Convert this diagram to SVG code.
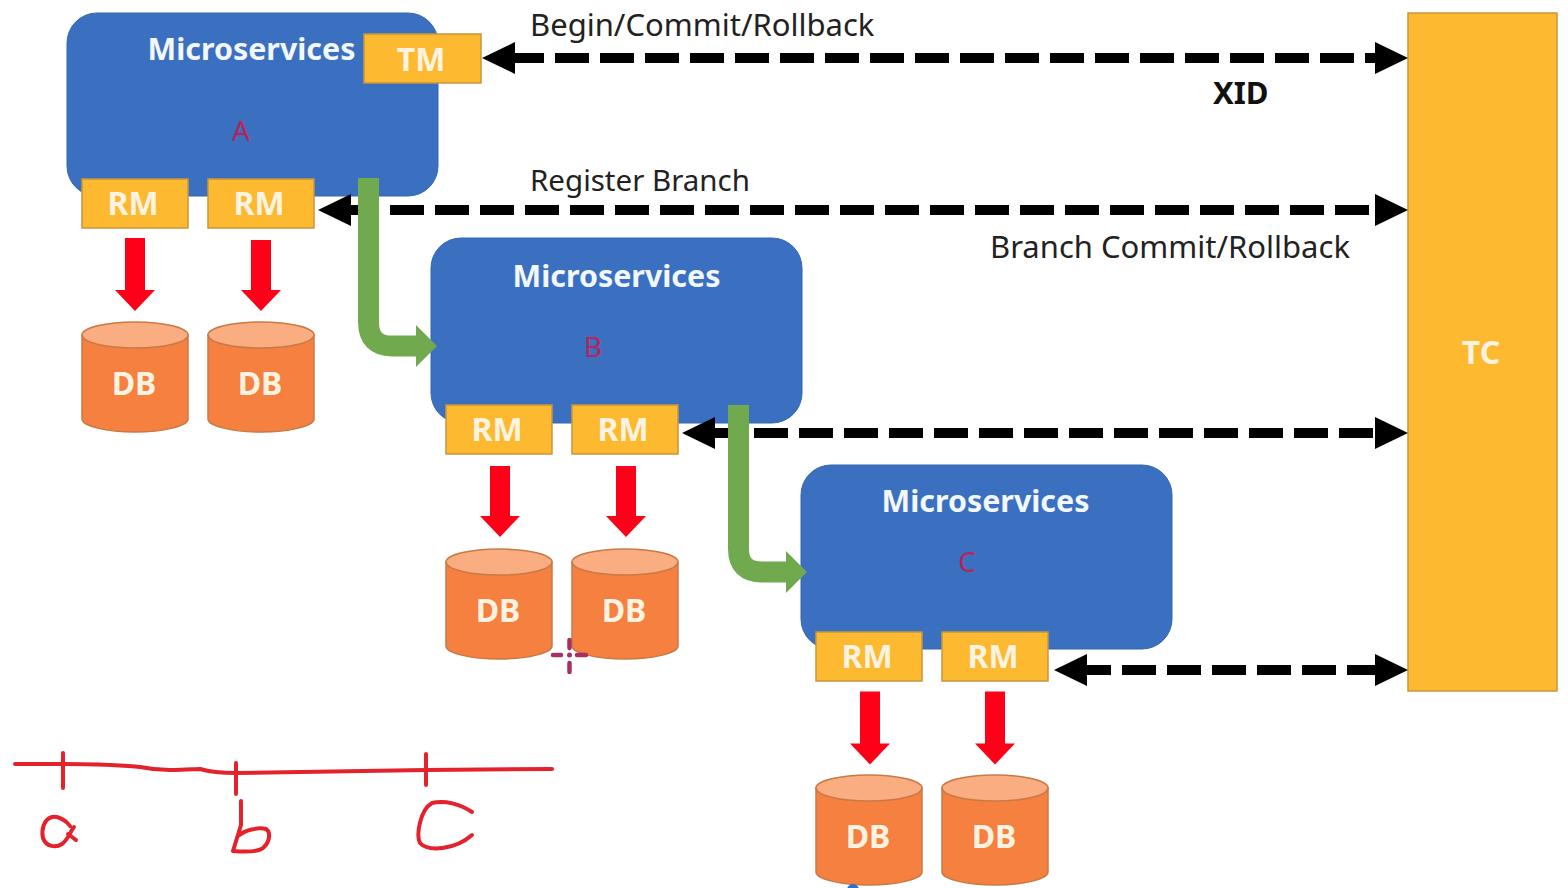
<svg xmlns="http://www.w3.org/2000/svg" width="1568" height="888" viewBox="0 0 1568 888">
<style>
text{font-family:"Noto Sans","Liberation Sans",sans-serif}
.svc{fill:#3b70c0;stroke:#3567b0;stroke-width:1}
.box{fill:#fdb92f;stroke:#c8963c;stroke-width:1.5}
.w{fill:#fdf3e0;font-weight:700;font-size:32px;text-anchor:middle}
.m{fill:#f2f7fc;font-weight:700;font-size:30.400px;text-anchor:middle}
.lab{fill:#222;font-size:31px}
.tag{fill:#b8235a;font-size:28px;text-anchor:middle}
.dash{fill:none;stroke:#000;stroke-width:10;stroke-dasharray:34 11}
.green{fill:none;stroke:#71a94e;stroke-width:21}
.gh{fill:#71a94e}
.ah{fill:#000}
.red{fill:#ff0019}
.body{fill:#f58040;stroke:#c87a45;stroke-width:1.5}
.top{fill:#f9ad80;stroke:#c87a45;stroke-width:1.5}
.ink{fill:none;stroke:#e3222c;stroke-width:4;stroke-linecap:round;stroke-linejoin:round}
.cur{fill:none;stroke:#a83060;stroke-width:4.500;stroke-linecap:round}
</style>
<defs>
<g id="db"><path class="body" d="M0 13V97C0 104 24 110 53 110S106 104 106 97V13Z"/><ellipse class="top" cx="53" cy="13" rx="53" ry="13"/><text class="w" x="52" y="73">DB</text></g>
<g id="rm"><rect class="box" width="106" height="49"/><text class="w" x="51" y="36">RM</text></g>
<path id="down" class="red" d="M10 0H30V52H40L20 73L0 52H10Z"/>
<path id="down2" class="red" d="M10 0H30V50H40L20 71L0 50H10Z"/>
<path id="hl" class="ah" d="M0 0L33-16V16Z"/>
<path id="hr" class="ah" d="M0 0L-33-16V16Z"/>
</defs>

<g id="service-a"><rect class="svc" x="67" y="13" width="371" height="183" rx="30"/><text class="m" x="251.500" y="60">Microservices</text><text class="tag" x="241" y="141">A</text></g>
<g id="service-b"><rect class="svc" x="431" y="238" width="371" height="185" rx="30"/><text class="m" x="616.500" y="287">Microservices</text><text class="tag" x="593" y="357">B</text></g>
<g id="service-c"><rect class="svc" x="801" y="465" width="371" height="184" rx="30"/><text class="m" x="985.500" y="512">Microservices</text><text class="tag" x="967" y="572">C</text></g>
<g id="tc"><rect class="box" x="1408" y="13" width="149" height="678"/><text class="w" x="1481" y="364">TC</text></g>
<g id="tm"><rect class="box" x="364" y="34" width="117" height="49"/><text class="w" x="421" y="71">TM</text></g>
<g id="rm-a1"><use href="#rm" x="82" y="179"/></g>
<g id="rm-a2"><use href="#rm" x="208" y="179"/></g>
<g id="rm-b1"><use href="#rm" x="446" y="405"/></g>
<g id="rm-b2"><use href="#rm" x="572" y="405"/></g>
<g id="rm-c1"><use href="#rm" x="816" y="632"/></g>
<g id="rm-c2"><use href="#rm" x="942" y="632"/></g>
<g id="db-a1"><use href="#db" x="82" y="322"/></g>
<g id="db-a2"><use href="#db" x="208" y="322"/></g>
<g id="db-b1"><use href="#db" x="446" y="549"/></g>
<g id="db-b2"><use href="#db" x="572" y="549"/></g>
<g id="db-c1"><use href="#db" x="816" y="775"/></g>
<g id="db-c2"><use href="#db" x="942" y="775"/></g>

<g id="connectors">
<path class="dash" d="M510 58H1380"/><use href="#hl" x="482" y="58"/><use href="#hr" x="1408" y="58"/>
<path class="dash" d="M345 210H1380"/><use href="#hl" x="318" y="210"/><use href="#hr" x="1408" y="210"/>
<path class="dash" d="M709 433H1380"/><use href="#hl" x="682" y="433"/><use href="#hr" x="1408" y="433"/>
<path class="dash" d="M1077 670H1380"/><use href="#hl" x="1054" y="670"/><use href="#hr" x="1408" y="670"/>
<path class="green" d="M368.500 178V322Q368.500 346 392 346H418"/><path class="gh" d="M416 325L437 346L416 367Z"/>
<path class="green" d="M738.500 405V549Q738.500 572 762 572H788"/><path class="gh" d="M786 551L807 572L786 593Z"/>
<use href="#down" x="115" y="238"/><use href="#down2" x="241" y="240"/>
<use href="#down2" x="480" y="466"/><use href="#down2" x="606" y="466"/>
<use href="#down" x="850" y="691.500"/><use href="#down" x="975" y="691.500"/>
</g>

<g id="labels">
<text class="lab" x="530" y="36">Begin/Commit/Rollback</text>
<text x="1213" y="104" style="fill:#111;font-size:31px;font-weight:700">XID</text>
<text class="lab" x="530" y="191" style="font-size:29.500px">Register Branch</text>
<text class="lab" x="990" y="258">Branch Commit/Rollback</text>
</g>

<g id="ink">
<path class="ink" d="M15 764H63C90 764 120 765 140 767C150 769 158 770 170 770C185 770 195 769 200 769C210 772 220 773 236 773C270 772 340 771 426 770L552 769"/>
<path class="ink" d="M63 753V788M236 763V794M426 754V785"/>
<path class="ink" d="M70 826C66 820 58 816 52 817C44 819 41 830 43 838C46 847 56 848 62 844C68 840 70 832 74 827M68 834L76 840"/>
<path class="ink" d="M241 801V825L233 851C245 852 258 852 263 848C270 842 271 832 266 829C258 827 245 830 238 836"/>
<path class="ink" d="M472 812C460 804 445 800 432 803C420 810 416 835 420 843C428 852 455 850 472 835"/>
</g>

<g id="cursor"><path class="cur" d="M569.500 640V648M569.500 663V672M553 655H561M577 655H586"/><circle cx="569.500" cy="655" r="2.500" fill="#a83060"/></g>
<circle id="pointer-dot" cx="853" cy="890" r="6" fill="#2f6fd0"/>
</svg>
